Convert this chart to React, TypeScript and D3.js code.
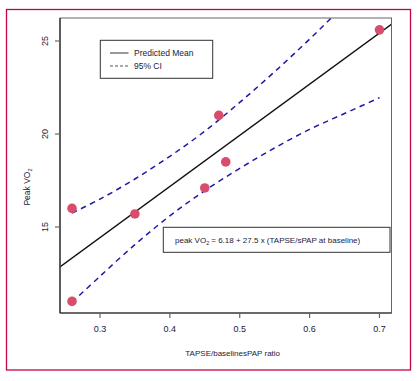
import React from "react";
import * as d3 from "d3";

const pointX = [0.26, 0.26, 0.35, 0.45, 0.48, 0.47, 0.70];
const pointY = [11.0, 16.0, 15.7, 17.1, 18.5, 21.0, 25.6];

const meanX = [0.24, 0.72];
const meanY = [12.78, 25.98];

const ciX = [0.26, 0.30, 0.35, 0.40, 0.45, 0.50, 0.55, 0.60, 0.65, 0.70];
const ciLower = [10.95, 12.35, 14.05, 15.6, 16.95, 18.15, 19.25, 20.25, 21.1, 21.95];
const ciUpper = [15.75, 16.5, 17.58, 18.8, 20.15, 21.7, 23.35, 25.1, 26.95, 28.8];

const xTicks = [0.3, 0.4, 0.5, 0.6, 0.7];
const yTicks = [15, 20, 25];

const W = 417, H = 381;
const L = 60, T = 18, R = 391.5, B = 313;
const FONT = "'Liberation Sans', Arial, sans-serif";

export default function App() {
  const x = d3.scaleLinear().domain([0.2428, 0.7172]).range([L, R]);
  const y = d3.scaleLinear().domain([10.376, 26.237]).range([B, T]);

  const line = d3
    .line<[number, number]>()
    .x((d) => x(d[0]))
    .y((d) => y(d[1]))
    .curve(d3.curveCatmullRom);

  const meanPath = line(meanX.map((v, i) => [v, meanY[i]] as [number, number])) || "";
  const lowPath = line(ciX.map((v, i) => [v, ciLower[i]] as [number, number])) || "";
  const upPath = line(ciX.map((v, i) => [v, ciUpper[i]] as [number, number])) || "";

  return (
    <svg
      width={W}
      height={H}
      style={{ position: "absolute", left: 0, top: 0, background: "#fff" }}
      fontFamily={FONT}
    >
      <defs>
        <clipPath id="plotclip">
          <rect x={L} y={T} width={R - L} height={B - T} />
        </clipPath>
      </defs>
      <rect x={6.5} y={9.5} width={404} height={360.5} fill="none" stroke="#c0063f" strokeWidth={1.3} />

      <g clipPath="url(#plotclip)">
        <path d={meanPath} fill="none" stroke="#111" strokeWidth={1.3} />
        <path d={upPath} fill="none" stroke="#1c1aa6" strokeWidth={1.5} strokeDasharray="5.5 4.5" />
        <path d={lowPath} fill="none" stroke="#1c1aa6" strokeWidth={1.5} strokeDasharray="5.5 4.5" />
      </g>

      {pointX.map((v, i) => (
        <circle key={i} cx={x(v)} cy={y(pointY[i])} r={4.8} fill="#d94d6c" />
      ))}

      <rect x={L} y={T} width={R - L} height={B - T} fill="none" stroke="#666" strokeWidth={1} />
      <line x1={L} x2={L} y1={T} y2={B} stroke="#222" strokeWidth={1.2} />
      <line x1={L} x2={R} y1={B} y2={B} stroke="#222" strokeWidth={1.2} />

      {xTicks.map((t) => (
        <g key={t}>
          <line x1={x(t)} x2={x(t)} y1={B} y2={B + 5} stroke="#666" strokeWidth={1.2} />
          <text x={x(t)} y={B + 19} textAnchor="middle" fontSize={9} fill="#1a1a3a">
            {t.toFixed(1)}
          </text>
        </g>
      ))}
      {yTicks.map((t) => (
        <g key={t}>
          <line x1={L - 5} x2={L} y1={y(t)} y2={y(t)} stroke="#666" strokeWidth={1.2} />
          <text
            transform={`translate(${L - 15},${y(t)}) rotate(-90)`}
            textAnchor="middle"
            fontSize={9}
            dy="0.35em"
            fill="#1a1a3a"
          >
            {t}
          </text>
        </g>
      ))}

      <text x={232.7} y={355.5} textAnchor="middle" fontSize={8} fill="#1a1a3a">
        TAPSE/baselinesPAP ratio
      </text>
      <text transform="translate(30,187) rotate(-90)" textAnchor="middle" fontSize={8.5} fill="#1a1a3a">
        Peak VO<tspan fontSize={5.5} dy="2">2</tspan>
      </text>

      <rect x={100.3} y={40.3} width={112.4} height={38} fill="#fff" stroke="#333" strokeWidth={1} />
      <line x1={110} x2={128.5} y1={53} y2={53} stroke="#555" strokeWidth={1.2} />
      <line x1={110} x2={128.5} y1={66} y2={66} stroke="#555" strokeWidth={1.2} strokeDasharray="3 2" />
      <text x={134} y={56} fontSize={8.5} fill="#1a1a3a">Predicted Mean</text>
      <text x={134} y={69} fontSize={8.5} fill="#1a1a3a">95% CI</text>

      <rect x={163.3} y={227.3} width={226.7} height={25} fill="#fff" stroke="#333" strokeWidth={1} />
      <text x={175} y={243.3} fontSize={8} fill="#1a1a3a">
        peak VO<tspan fontSize={5.2} dy="2">2</tspan>
        <tspan dy="-2"> = 6.18 + 27.5 x (TAPSE/sPAP at baseline)</tspan>
      </text>
    </svg>
  );
}
